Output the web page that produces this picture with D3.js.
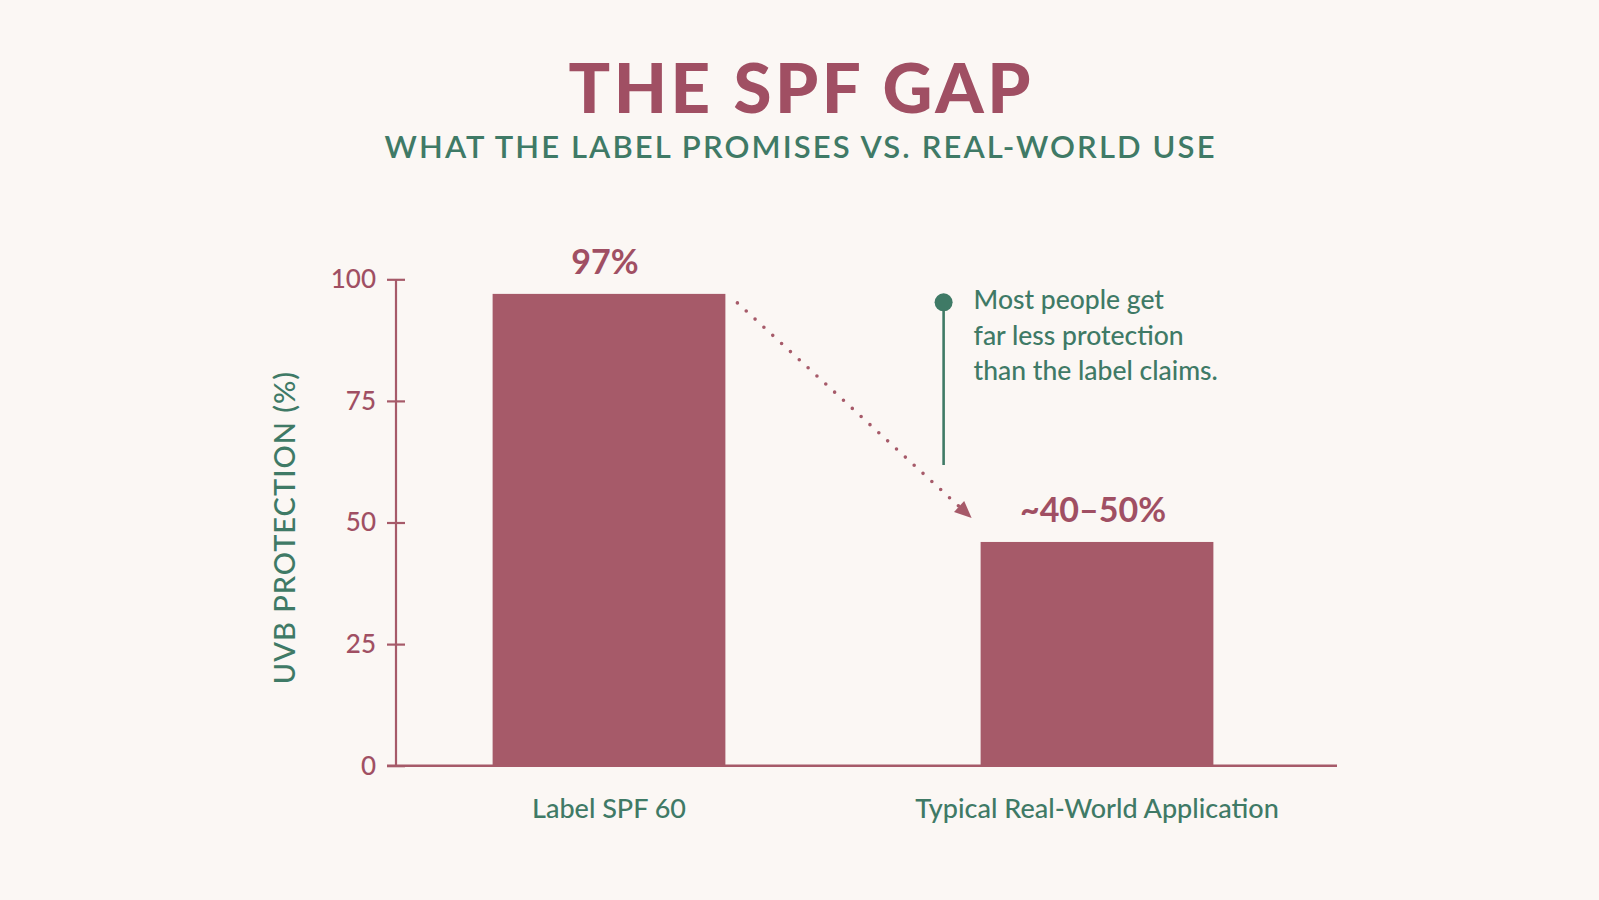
<!DOCTYPE html>
<html>
<head>
<meta charset="utf-8">
<script src="https://cdn.jsdelivr.net/npm/d3@7"></script>
<style>
  html, body { margin: 0; padding: 0; background: #fbf7f4; }
  svg { display: block; }
  text { font-family: Lato, "Open Sans", sans-serif; }
</style>
</head>
<body>
<div id="chart"></div>
<script>
// ---- data ----
const categories = ["Label SPF 60", "Typical Real-World Application"];
const values = [97, 46];
const valueLabels = ["97%", "~40–50%"];
const yTicks = [0, 25, 50, 75, 100];
const titleText = "THE SPF GAP";
const subtitleText = "WHAT THE LABEL PROMISES VS. REAL-WORLD USE";
const yAxisTitle = "UVB PROTECTION (%)";
const annotationLines = ["Most people get", "far less protection", "than the label claims."];

// ---- styles ----
const W = 1599, H = 900;
const rose = "#a65a69";
const roseText = "#a04f63";
const green = "#3f7a66";
const bg = "#fbf7f4";

const svg = d3.select("#chart").append("svg")
  .attr("width", W).attr("height", H);
svg.append("rect").attr("width", W).attr("height", H).attr("fill", bg);

// titles
svg.append("text")
  .attr("x", 799.5).attr("y", 113)
  .attr("text-anchor", "middle")
  .attr("font-size", 69).attr("font-weight", 900)
  .attr("fill", roseText)
  .attr("textLength", 462).attr("lengthAdjust", "spacing")
  .text(titleText);

svg.append("text")
  .attr("x", 799.5).attr("y", 158)
  .attr("text-anchor", "middle")
  .attr("font-size", 31).attr("font-weight", 600)
  .attr("fill", green)
  .attr("textLength", 830).attr("lengthAdjust", "spacing")
  .text(subtitleText);

// scales
const x = d3.scaleBand()
  .domain(categories)
  .range([365, 1341])
  .paddingInner(0.523)
  .paddingOuter(0.2615);

const y = d3.scaleLinear().domain([0, 100]).range([765.7, 279.3]);

const axisX0 = 396;

// bars
svg.append("g").selectAll("rect")
  .data(categories)
  .join("rect")
  .attr("x", d => x(d))
  .attr("width", x.bandwidth())
  .attr("y", (d, i) => y(values[i]))
  .attr("height", (d, i) => y(0) - y(values[i]))
  .attr("fill", rose);

// y axis
const yAxis = d3.axisLeft(y).tickValues(yTicks).tickSize(9).tickPadding(11);
const gy = svg.append("g").attr("transform", `translate(${axisX0},0)`).call(yAxis);
gy.select(".domain").remove();
gy.append("line")
  .attr("x1", 0).attr("x2", 0)
  .attr("y1", y(100)).attr("y2", y(0))
  .attr("stroke", rose).attr("stroke-width", 2.2);
gy.selectAll(".tick line")
  .attr("x1", -9).attr("x2", 9)
  .attr("stroke", rose).attr("stroke-width", 2.2);
gy.selectAll(".tick text")
  .attr("font-family", "Lato, sans-serif")
  .attr("font-size", 26)
  .attr("font-weight", 500)
  .attr("fill", roseText)
  .attr("x", -20);

// x baseline
svg.append("line")
  .attr("x1", axisX0 - 9).attr("x2", 1337)
  .attr("y1", y(0)).attr("y2", y(0))
  .attr("stroke", rose).attr("stroke-width", 2.6);

// x category labels
svg.append("g").selectAll("text")
  .data(categories)
  .join("text")
  .attr("x", d => x(d) + x.bandwidth() / 2)
  .attr("y", 818)
  .attr("text-anchor", "middle")
  .attr("font-size", 27)
  .attr("font-weight", 500)
  .attr("fill", green)
  .text(d => d);

// value labels
svg.append("g").selectAll("text")
  .data(categories)
  .join("text")
  .attr("x", d => x(d) + x.bandwidth() / 2 - 4)
  .attr("y", (d, i) => y(values[i]) - 20)
  .attr("text-anchor", "middle")
  .attr("font-size", 34).attr("font-weight", 700)
  .attr("fill", roseText)
  .text((d, i) => valueLabels[i]);

// y axis title
svg.append("text")
  .attr("transform", `translate(295,${(y(0) + y(100)) / 2 + 5}) rotate(-90)`)
  .attr("text-anchor", "middle")
  .attr("font-size", 29).attr("font-weight", 500)
  .attr("fill", green)
  .attr("letter-spacing", 1)
  .text(yAxisTitle);

// dotted arrow between bars
const x1 = x(categories[0]) + x.bandwidth() + 12;
const y1 = y(values[0]) + 9;
const x2 = x(categories[1]) - 9;
const y2 = y(values[1]) - 24;
const ang = Math.atan2(y2 - y1, x2 - x1);
const headLen = 17, headW = 7.5;
const bx = x2 - headLen * Math.cos(ang), by = y2 - headLen * Math.sin(ang);
svg.append("line")
  .attr("x1", x1).attr("y1", y1)
  .attr("x2", bx).attr("y2", by)
  .attr("stroke", rose).attr("stroke-width", 3.6)
  .attr("stroke-linecap", "round")
  .attr("stroke-dasharray", "0 12");
svg.append("path")
  .attr("d", d3.line()([
    [x2, y2],
    [bx + headW * Math.sin(ang), by - headW * Math.cos(ang)],
    [bx - headW * Math.sin(ang), by + headW * Math.cos(ang)]
  ]) + "Z")
  .attr("fill", rose);

// annotation
const annX = x(categories[1]) - 37;
const annTop = y(100) + 23;
svg.append("line")
  .attr("x1", annX).attr("x2", annX)
  .attr("y1", annTop).attr("y2", 465)
  .attr("stroke", green).attr("stroke-width", 2.6);
svg.append("circle")
  .attr("cx", annX).attr("cy", annTop).attr("r", 9)
  .attr("fill", green);
svg.append("g").selectAll("text")
  .data(annotationLines)
  .join("text")
  .attr("x", annX + 30)
  .attr("y", (d, i) => 309 + i * 35.5)
  .attr("font-size", 26.5)
  .attr("font-weight", 500)
  .attr("fill", green)
  .text(d => d);
</script>
</body>
</html>
